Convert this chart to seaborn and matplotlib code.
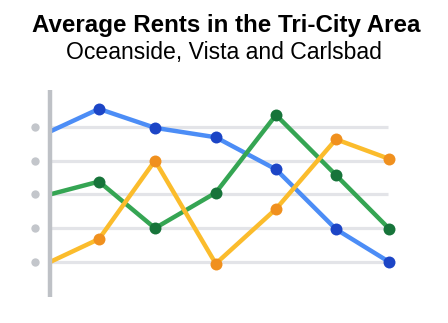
import matplotlib
matplotlib.use("Agg")
import matplotlib.pyplot as plt
import seaborn as sns
import pandas as pd

# ---- data (y in grid-step units) ----
x_pos = [0.0, 0.867, 1.858, 2.934, 4.0, 5.062, 6.005]
blue_vals = [3.86, 4.53, 3.97, 3.69, 2.74, 0.97, 0.0]
green_vals = [2.0, 2.38, 1.0, 2.05, 4.35, 2.57, 0.98]
orange_vals = [0.0, 0.68, 3.0, -0.05, 1.57, 3.63, 3.05]
grid_levels = [0, 1, 2, 3, 4]

title = "Average Rents in the Tri-City Area"
subtitle = "Oceanside, Vista and Carlsbad"

series = [
    ("blue", blue_vals, "#4c8df6", "#1c45c6"),
    ("green", green_vals, "#35a553", "#17743a"),
    ("orange", orange_vals, "#fbbc2c", "#f0901e"),
]

sns.set_theme(style="white")
plt.rcParams['font.family'] = ['Liberation Sans', 'DejaVu Sans']

W, H = 448, 323
fig = plt.figure(figsize=(W / 100, H / 100), dpi=100)
ax = fig.add_axes([0, 0, 1, 1])
ax.set_axis_off()

px_x = 56.5   # pixels per x unit
px_y = 33.8   # pixels per y unit
x0_px, y0_px = 50, 262
ax.set_xlim(-x0_px / px_x, (W - x0_px) / px_x)
ax.set_ylim(-(H - y0_px) / px_y, y0_px / px_y)

# gridlines
for lv in grid_levels:
    ax.plot([0, 5.99], [lv, lv], color="#e3e4e8", lw=2.3, zorder=1,
            solid_capstyle="butt")
# gray dots as tick markers
ax.scatter([-15 / px_x] * len(grid_levels), grid_levels, s=36,
           color="#c3c6cb", linewidths=0, zorder=2)

for i, (name, vals, lc, mc) in enumerate(series):
    df = pd.DataFrame({"x": x_pos, "y": vals})
    sns.lineplot(data=df, x="x", y="y", ax=ax, color=lc, lw=3.2,
                 marker="o", markersize=8.6, markerfacecolor=mc,
                 markeredgecolor=mc, markeredgewidth=0,
                 markevery=list(range(1, len(vals))), zorder=3 + i,
                 solid_capstyle="butt", estimator=None, sort=False)

# vertical axis bar
ax.plot([0, 0], [(y0_px - 90) / px_y, (y0_px - 297) / px_y],
        color="#bec1c6", lw=3.2, zorder=10, solid_capstyle="butt")
ax.set_xlim(-x0_px / px_x, (W - x0_px) / px_x)
ax.set_ylim(-(H - y0_px) / px_y, y0_px / px_y)
ax.set_axis_off()

fig.text(226.5 / W, 1 - 32 / H, title, ha="center", va="baseline",
         fontsize=17.4, fontweight="bold", color="#000000")
fig.text(224 / W, 1 - 59 / H, subtitle, ha="center", va="baseline",
         fontsize=16.6, color="#000000")

fig.savefig("out.png", dpi=100)
